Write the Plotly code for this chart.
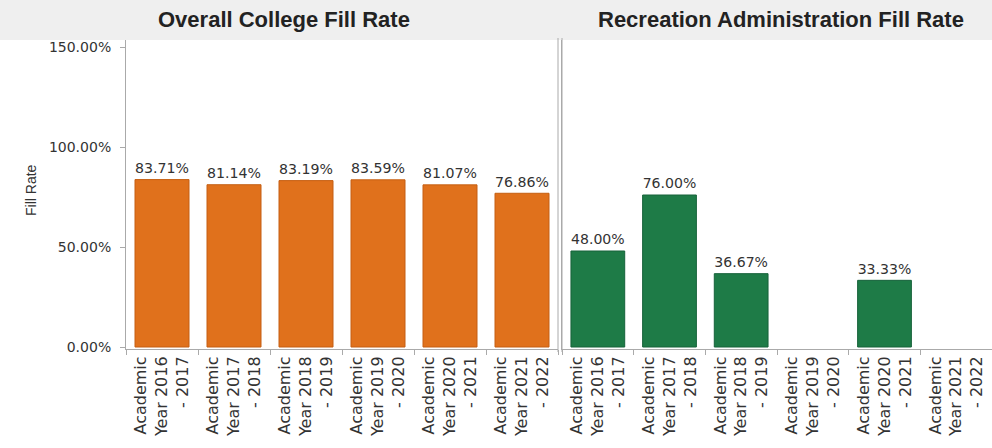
import plotly.graph_objects as go

categories = ["Academic<br>Year 2016<br>- 2017", "Academic<br>Year 2017<br>- 2018",
              "Academic<br>Year 2018<br>- 2019", "Academic<br>Year 2019<br>- 2020",
              "Academic<br>Year 2020<br>- 2021", "Academic<br>Year 2021<br>- 2022"]
overall_rate = [0.8371, 0.8114, 0.8319, 0.8359, 0.8107, 0.7686]
recreation_rate = [0.48, 0.76, 0.3667, None, 0.3333, None]
y_ticks = [0, 0.5, 1.0, 1.5]
panel_titles = ["Overall College Fill Rate", "Recreation Administration Fill Rate"]

W, H = 992, 448
FONT = "Arial, Liberation Sans, sans-serif"
WFONT = "DejaVu Sans, Verdana, sans-serif"

def px(x):
    return x / W

def py(y):
    return 1 - y / H

def labels(vals):
    return ["" if v is None else f"{v*100:.2f}%" for v in vals]

fig = go.Figure()
fig.add_trace(go.Bar(x=categories, y=overall_rate, xaxis="x", yaxis="y",
                     marker=dict(color="#E0711C", line=dict(color="#C55F12", width=1)),
                     text=labels(overall_rate), textposition="outside",
                     textfont=dict(family=WFONT, size=16, color="#333333"),
                     cliponaxis=False, showlegend=False, hoverinfo="skip"))
fig.add_trace(go.Bar(x=categories, y=recreation_rate, xaxis="x2", yaxis="y2",
                     marker=dict(color="#1E7B47", line=dict(color="#16623A", width=1)),
                     text=labels(recreation_rate), textposition="outside",
                     textfont=dict(family=WFONT, size=16, color="#333333"),
                     cliponaxis=False, showlegend=False, hoverinfo="skip"))

xcommon = dict(type="category", tickangle=-90, tickfont=dict(family=WFONT, size=16, color="#333333"),
               ticks="outside", tickson="boundaries", ticklen=5, tickcolor="#AAAAAA",
               showline=True, linecolor="#AAAAAA", linewidth=1, showgrid=False, zeroline=False,
               fixedrange=True, automargin=False)
yrange = [-0.01, 1.535]

fig.update_layout(
    width=W, height=H,
    margin=dict(l=0, r=0, t=0, b=0, autoexpand=False),
    paper_bgcolor="white", plot_bgcolor="white",
    bargap=0.25,
    xaxis=dict(domain=[px(126), px(558)], anchor="y", **xcommon),
    xaxis2=dict(domain=[px(562), 1.0], anchor="y2", **xcommon),
    yaxis=dict(anchor="x", domain=[py(349), py(40)], range=yrange, tickvals=y_ticks,
               tickformat=".2%", showgrid=False, zeroline=False, ticks="outside", ticklen=5,
               tickcolor="#AAAAAA", fixedrange=True, automargin=False, ticklabelstandoff=6,
               tickfont=dict(family=WFONT, size=14, color="#333333"),
               showline=True, linecolor="#AAAAAA", linewidth=1),
    yaxis2=dict(anchor="x2", domain=[py(349), py(40)], range=yrange, showticklabels=False,
                showgrid=False, zeroline=False, ticks="", fixedrange=True, automargin=False,
                showline=True, linecolor="#AAAAAA", linewidth=1),
    font=dict(family=FONT, color="#333333"),
)

shapes = [
    dict(type="rect", xref="paper", yref="paper", x0=0, x1=1, y0=py(40), y1=1,
         fillcolor="#EFEFEF", line=dict(width=0), layer="below"),
    dict(type="line", xref="paper", yref="paper", x0=px(558), x1=px(558), y0=py(352), y1=py(38),
         line=dict(color="#AAAAAA", width=1)),
    dict(type="line", xref="paper", yref="paper", x0=px(562), x1=px(562), y0=py(352), y1=py(38),
         line=dict(color="#AAAAAA", width=1)),
]
fig.update_layout(shapes=shapes)

annotations = [
    dict(text=f"<b>{panel_titles[0]}</b>", x=px(284), y=py(20), xref="paper", yref="paper",
         xanchor="center", yanchor="middle", showarrow=False,
         font=dict(family=FONT, size=22, color="#222222")),
    dict(text=f"<b>{panel_titles[1]}</b>", x=px(781), y=py(20), xref="paper", yref="paper",
         xanchor="center", yanchor="middle", showarrow=False,
         font=dict(family=FONT, size=22, color="#222222")),
    dict(text="Fill Rate", textangle=-90, x=px(31), y=py(190), xref="paper", yref="paper",
         xanchor="center", yanchor="middle", showarrow=False,
         font=dict(family=FONT, size=14, color="#333333")),
]
fig.update_layout(annotations=annotations)

fig.write_html("out.html", config={"displayModeBar": False},
               post_script="document.body.style.margin='0';document.body.style.overflow='hidden';")
